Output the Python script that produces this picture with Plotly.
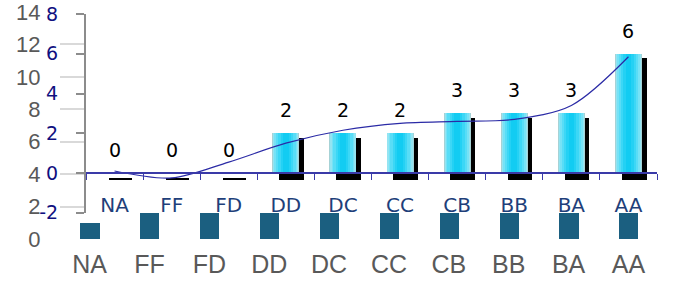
import plotly.graph_objects as go

# ---------------- data ----------------
categories = ['NA', 'FF', 'FD', 'DD', 'DC', 'CC', 'CB', 'BB', 'BA', 'AA']
top_values = [0, 0, 0, 2, 2, 2, 3, 3, 3, 6]                 # cyan bars (blue axis)
bottom_values = [1, 1.6, 1.6, 1.6, 1.6, 1.6, 1.6, 1.6, 1.6, 1.6]  # dark bars (grey axis, visible part)
trend_values = [0.1, -0.25, 0.55, 1.5, 2.15, 2.5, 2.6, 2.7, 3.4, 5.85]
grey_ticks = [0, 2, 4, 6, 8, 10, 12, 14]
blue_ticks = [-2, 0, 2, 4, 6, 8]

# ---------------- layout helpers ----------------
W, H = 678, 289
MB = 50
MT = 12
PH = H - MT - MB


def fx(px):
    return px / W


def fy(py):
    return (239 - py) / PH


y2_dom = [fy(212.75), fy(14)]
x2_pos = y2_dom[0] + (0 - blue_ticks[0]) / (blue_ticks[-1] - blue_ticks[0]) * (y2_dom[1] - y2_dom[0])

fig = go.Figure()

# bottom dark bars (grey axis)
fig.add_trace(go.Bar(x=categories, y=bottom_values, width=0.32,
                     marker=dict(color='#1b5f80', line=dict(width=0)),
                     xaxis='x', yaxis='y', hoverinfo='skip'))

# shadow of the cyan bars
fig.add_trace(go.Bar(x=categories, y=top_values, base=-0.28, width=0.40, offset=-0.10,
                     marker=dict(color='black', line=dict(color='black', width=2)),
                     xaxis='x2', yaxis='y2', hoverinfo='skip'))

# cyan bars built from layered widths (gradient look)
for w, c in [(0.473, '#a6d2d6'), (0.44, '#94e4f2'), (0.40, '#76e2f6'), (0.34, '#58ddf7'),
             (0.26, '#3cd7f6'), (0.18, '#24d1f4'), (0.10, '#12ccf2')]:
    fig.add_trace(go.Bar(x=categories, y=top_values, width=w,
                         marker=dict(color=c, line=dict(width=0)),
                         xaxis='x2', yaxis='y2', hoverinfo='skip'))

# trend line
fig.add_trace(go.Scatter(x=categories, y=trend_values, mode='lines',
                         line=dict(color='#2b2ba6', width=1.2, shape='spline', smoothing=0.9),
                         xaxis='x2', yaxis='y2', hoverinfo='skip'))

# value labels
annotations = []
for c, v in zip(categories, top_values):
    annotations.append(dict(x=c, y=v, xref='x2', yref='y2', text=str(v), showarrow=False,
                            yanchor='middle', yshift=23,
                            font=dict(family='DejaVu Sans', size=19, color='black')))

grey_font = dict(family='Liberation Sans', size=22, color='#595959')
navy_font = dict(family='DejaVu Sans', size=19, color='#10107f')

fig.update_layout(
    width=W, height=H,
    margin=dict(l=0, r=0, t=MT, b=MB),
    paper_bgcolor='white', plot_bgcolor='white',
    showlegend=False, barmode='overlay', bargap=0,
    annotations=annotations,
    xaxis=dict(domain=[fx(59.6), fx(658.4)], type='category', range=[-0.5, 9.5],
               showgrid=False, showline=False, zeroline=False, ticks='', automargin=False,
               tickfont=dict(family='Liberation Sans', size=25, color='#595959'),
               ticklabelstandoff=8, anchor='y', ticklabeloverflow='allow'),
    yaxis=dict(domain=[0, 1], range=[0, 14], tickvals=grey_ticks, anchor='x', automargin=False,
               showgrid=False, zeroline=False, showline=False,
               ticks='inside', ticklen=26, tickwidth=2, tickcolor='#d9d9d9',
               tickfont=grey_font, ticklabelstandoff=18, ticklabeloverflow='allow'),
    yaxis3=dict(overlaying='y', anchor='x', range=[0, 14], tickvals=[0, 2, 14], automargin=False,
                showgrid=True, gridcolor='#d9d9d9', gridwidth=2, zeroline=False,
                showticklabels=False, ticks=''),
    xaxis2=dict(domain=[fx(86), fx(657)], type='category', range=[-0.5, 9.5], automargin=False,
                anchor='free', position=x2_pos, showgrid=False, zeroline=False,
                showline=True, linecolor='#3a3aa8', linewidth=1.5,
                ticks='outside', tickson='boundaries', ticklen=6, tickwidth=1, tickcolor='#3a3aa8',
                tickfont=dict(family='DejaVu Sans', size=20, color='#1f3f7a'),
                ticklabelstandoff=14, ticklabeloverflow='allow'),
    yaxis2=dict(domain=y2_dom, anchor='x2', range=[-2, 8], tickvals=blue_ticks,
                ticktext=[str(v) for v in blue_ticks], automargin=False,
                showgrid=False, zeroline=False, showline=True, linecolor='#8c8c8c', linewidth=2,
                ticks='outside', ticklen=8, tickwidth=2, tickcolor='#8c8c8c',
                tickfont=navy_font, ticklabelstandoff=14, ticklabeloverflow='allow'),
    yaxis4=dict(overlaying='y2', anchor='x2', range=[-2, 8], tickvals=[2, 4, 6, 8], automargin=False,
                showgrid=True, gridcolor='#a6a6a6', gridwidth=2, zeroline=False,
                showticklabels=False, ticks=''),
)

# remove the default 8px page margin so the figure fills the window exactly
fig.write_html('out.html', config={'displayModeBar': False},
               post_script="document.body.style.margin='0';")
